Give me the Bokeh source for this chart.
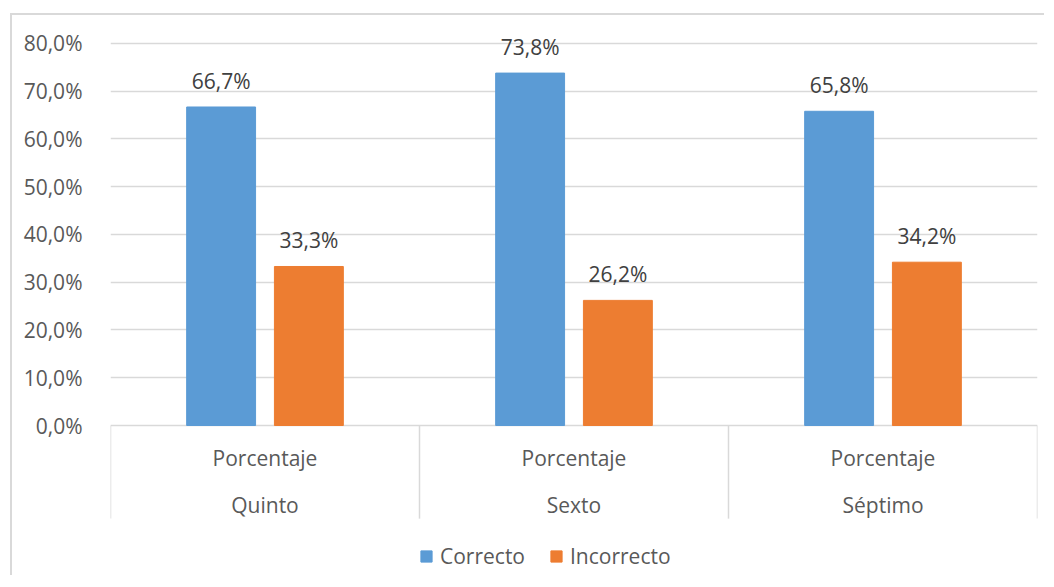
from bokeh.plotting import figure
from bokeh.models import ColumnDataSource, FixedTicker, Range1d, Legend, LegendItem
from bokeh.core.properties import value
from bokeh.embed import file_html
from bokeh.resources import INLINE

# ---- data ----
groups = ["Quinto", "Sexto", "Séptimo"]
sublabel = "Porcentaje"
series_names = ["Correcto", "Incorrecto"]
correcto = [66.7, 73.8, 65.8]
incorrecto = [33.3, 26.2, 34.2]
y_ticks = [0, 10, 20, 30, 40, 50, 60, 70, 80]
y_tick_labels = ["0,0%", "10,0%", "20,0%", "30,0%", "40,0%", "50,0%", "60,0%", "70,0%", "80,0%"]

# ---- styling ----
FONT = "Open Sans"
FS = "21px"
BLUE = "#5B9BD5"
ORANGE = "#ED7D31"
GRID = "#D9D9D9"
TXT = "#595959"
LBL = "#404040"
BAR_W = 0.223
OFFSET = 0.142

n = len(groups)
centers = [i + 0.5 for i in range(n)]

def fmt(v):
    return f"{v:.1f}%".replace(".", ",")

src_c = ColumnDataSource(dict(x=[c - OFFSET for c in centers], top=correcto,
                              lab=[fmt(v) for v in correcto]))
src_i = ColumnDataSource(dict(x=[c + OFFSET for c in centers], top=incorrecto,
                              lab=[fmt(v) for v in incorrecto]))

p = figure(width=1034, height=562, output_backend="svg", toolbar_location=None,
           x_range=Range1d(0, n), y_range=Range1d(-31.83, 82.09),
           x_axis_location=None, min_border_left=98, min_border_right=9,
           min_border_top=18, min_border_bottom=0)
p.outline_line_color = None
p.background_fill_color = "white"
p.border_fill_color = "white"
p.styles = {"margin-left": "10px", "margin-top": "13px",
            "border-left": "2px solid #D9D9D9", "border-top": "2px solid #D9D9D9"}

p.xgrid.visible = False
p.ygrid.ticker = FixedTicker(ticks=y_ticks[1:])
p.ygrid.grid_line_color = GRID
p.ygrid.grid_line_width = 1.5

ax = p.yaxis[0]
ax.ticker = FixedTicker(ticks=y_ticks)
ax.major_label_overrides = {t: l for t, l in zip(y_ticks, y_tick_labels)}
ax.axis_line_color = None
ax.major_tick_line_color = None
ax.minor_tick_line_color = None
ax.major_label_standoff = 22
ax.major_label_text_font = FONT
ax.major_label_text_font_size = FS
ax.major_label_text_color = TXT

# category axis lines
p.segment(x0=[0], y0=[0], x1=[n], y1=[0], line_color=GRID, line_width=1.5)
p.segment(x0=list(range(n + 1)), y0=[0] * (n + 1), x1=list(range(n + 1)),
          y1=[-19.5] * (n + 1), line_color=GRID, line_width=1.5)

rc = p.vbar(x="x", top="top", width=BAR_W, bottom=0, source=src_c,
            fill_color=BLUE, line_color=BLUE)
ri = p.vbar(x="x", top="top", width=BAR_W, bottom=0, source=src_i,
            fill_color=ORANGE, line_color=ORANGE)

for s in (src_c, src_i):
    p.text(x="x", y="top", text="lab", source=s, text_font=value(FONT),
           text_font_size=FS, text_color=LBL, text_align="center",
           text_baseline="middle", y_offset=-26)

p.text(x=centers, y=[0] * n, text=[sublabel] * n, text_font=value(FONT),
       text_font_size=FS, text_color=TXT, text_align="center",
       text_baseline="middle", y_offset=32)
p.text(x=centers, y=[0] * n, text=groups, text_font=value(FONT),
       text_font_size=FS, text_color=TXT, text_align="center",
       text_baseline="middle", y_offset=79)

legend = Legend(items=[LegendItem(label=series_names[0], renderers=[rc]),
                       LegendItem(label=series_names[1], renderers=[ri])],
                orientation="horizontal", location=(309, 7))
legend.border_line_color = None
legend.background_fill_alpha = 0
legend.padding = 0
legend.margin = 0
legend.spacing = 24
legend.glyph_width = 14
legend.glyph_height = 14
legend.label_standoff = 7
legend.label_height = 20
legend.label_text_font = FONT
legend.label_text_font_size = FS
legend.label_text_color = TXT
p.add_layout(legend)

open("out.html", "w").write(file_html(p, INLINE))
